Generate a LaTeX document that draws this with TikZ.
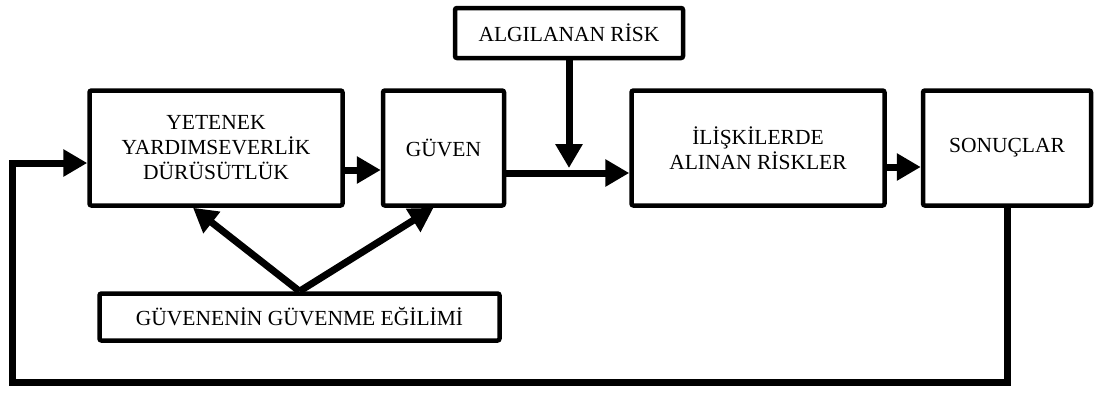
\documentclass[tikz,border=0pt]{standalone}
\usepackage{fontspec}
\setmainfont{Liberation Serif}
\usetikzlibrary{arrows.meta}

\begin{document}
\begin{tikzpicture}[x=1pt, y=-1pt, box/.style = {draw, line width=4.5pt, rounded corners=2pt, align=center, inner sep=0pt, font=\fontsize{21.5}{25}\selectfont}, arr/.style = {line width=7pt, line join=miter, -{Triangle[length=24pt, width=26pt]}}]
        \useasboundingbox (0,0) rectangle (1096,392);
        \node[box, minimum width=253pt, minimum height=115pt] (1) at (216,148) {YETENEK\\YARDIMSEVERLİK\\DÜRÜSÜTLÜK};
        \node[box, minimum width=121pt, minimum height=115pt] (2) [right of=1, node distance=227.5pt] {GÜVEN};
        \node[box, minimum width=253pt, minimum height=115pt] (3) [right of=2, node distance=314.5pt] {İLİŞKİLERDE\\ALINAN RİSKLER};
        \node[box, minimum width=168pt, minimum height=115pt] (4) [right of=3, node distance=249pt] {SONUÇLAR};
        \node[box, minimum width=228pt, minimum height=50pt] (5) at (569,33) {ALGILANAN RİSK};
        \node[box, minimum width=400pt, minimum height=47pt] (6) at (299.5,317) {GÜVENENİN GÜVENME EĞİLİMİ};
        \coordinate (a) at (12,382);
        \coordinate (b) at (12,163);
        \coordinate (c) at (569,168);
        \draw[arr] ([yshift=-22pt]1.east) -- ([yshift=-22pt]2.west);
        \draw[arr] ([yshift=-25pt]2.east) -- ([yshift=-25pt]2.east -| 3.west);
        \draw[arr] ([yshift=-19pt]3.east) -- ([yshift=-19pt]3.east -| 4.west);
        \draw[arr] (5.south) -- (c);
        \draw[arr] (6.north) -- ([xshift=-23pt]1.south);
        \draw[arr] (6.north) -- ([xshift=-10pt]2.south);
        \draw[arr] (4.south) |- (a) -- (b) -- (1.west |- b);
    \end{tikzpicture}
\end{document}
